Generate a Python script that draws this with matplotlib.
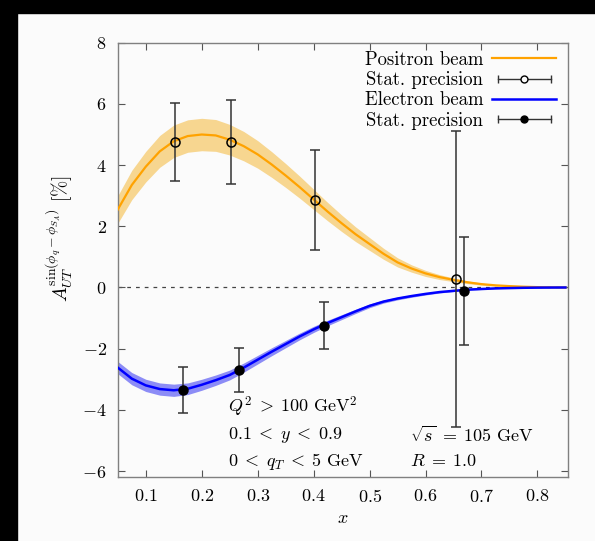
import matplotlib
matplotlib.use("Agg")
import matplotlib.pyplot as plt
from matplotlib.legend_handler import HandlerLine2D, HandlerTuple
from matplotlib.lines import Line2D
from matplotlib.patches import Rectangle

plt.rcParams["font.family"] = "serif"
plt.rcParams["font.serif"] = ["cmr10", "DejaVu Serif"]
plt.rcParams["mathtext.fontset"] = "cm"
plt.rcParams["axes.formatter.use_mathtext"] = True

# model curves, sampled every 0.025 in x
xGrid = [0.05, 0.075, 0.1, 0.125, 0.15, 0.175, 0.2, 0.225, 0.25, 0.275,
         0.3, 0.325, 0.35, 0.375, 0.4, 0.425, 0.45, 0.475, 0.5, 0.525,
         0.55, 0.575, 0.6, 0.625, 0.65, 0.675, 0.7, 0.725, 0.75, 0.775,
         0.8, 0.825, 0.85]
positronCurve = [2.55, 3.35, 3.95, 4.45, 4.78, 4.95, 5.00, 4.97, 4.83, 4.62,
                 4.35, 4.02, 3.66, 3.28, 2.88, 2.48, 2.10, 1.74, 1.42, 1.10,
                 0.82, 0.62, 0.46, 0.34, 0.25, 0.17, 0.11, 0.07, 0.045, 0.025,
                 0.012, 0.005, 0.0]
positronBand = [0.45, 0.48, 0.50, 0.52, 0.53, 0.53, 0.53, 0.52, 0.50, 0.48,
                0.45, 0.42, 0.39, 0.36, 0.33, 0.30, 0.27, 0.24, 0.21, 0.18,
                0.15, 0.12, 0.10, 0.08, 0.06, 0.045, 0.035, 0.025, 0.015, 0.01,
                0.005, 0.002, 0.0]
electronCurve = [-2.62, -2.98, -3.20, -3.32, -3.36, -3.31, -3.18, -3.03, -2.86, -2.62,
                 -2.36, -2.10, -1.85, -1.60, -1.37, -1.16, -0.97, -0.78, -0.60, -0.46,
                 -0.36, -0.28, -0.21, -0.15, -0.11, -0.07, -0.05, -0.03, -0.02, -0.01,
                 -0.005, -0.002, 0.0]
electronBand = [0.20, 0.20, 0.20, 0.20, 0.20, 0.19, 0.18, 0.17, 0.16, 0.15,
                0.14, 0.13, 0.12, 0.11, 0.10, 0.09, 0.08, 0.07, 0.06, 0.05,
                0.045, 0.04, 0.035, 0.03, 0.025, 0.02, 0.015, 0.01, 0.008, 0.005,
                0.003, 0.001, 0.0]

# pseudo-data with statistical errors
positronX = [0.152, 0.252, 0.402, 0.654]
positronY = [4.76, 4.76, 2.86, 0.28]
positronErr = [1.27, 1.37, 1.65, 4.85]
electronX = [0.167, 0.267, 0.418, 0.669]
electronY = [-3.36, -2.69, -1.25, -0.12]
electronErr = [0.75, 0.72, 0.77, 1.77]

ORANGE = "#ffa200"
BLUE = "#0000ff"
BG = "#fbfbfb"
ERR = "#333333"

fig = plt.figure(figsize=(5.95, 5.41), dpi=100)
fig.patch.set_facecolor(BG)
ax = fig.add_axes([0.198, 0.118, 0.757, 0.803])
ax.set_facecolor(BG)

# screenshot borders
fig.patches.append(Rectangle((0, 0.976), 1, 0.024, transform=fig.transFigure,
                             color="black", zorder=-1))
fig.patches.append(Rectangle((0, 0), 0.029, 1, transform=fig.transFigure,
                             color="black", zorder=-1))

ax.axhline(0, color="#444444", lw=0.9, ls=(0, (3, 4)), zorder=1)

bandUpper = [c + b for c, b in zip(positronCurve, positronBand)]
bandLower = [c - b for c, b in zip(positronCurve, positronBand)]
ax.fill_between(xGrid, bandLower, bandUpper, color="#f7d690", lw=0, zorder=2)
posLine, = ax.plot(xGrid, positronCurve, color=ORANGE, lw=1.6, zorder=3)

bandUpper = [c + b for c, b in zip(electronCurve, electronBand)]
bandLower = [c - b for c, b in zip(electronCurve, electronBand)]
ax.fill_between(xGrid, bandLower, bandUpper, color="#8c8cf6", lw=0, zorder=2)
eleLine, = ax.plot(xGrid, electronCurve, color=BLUE, lw=1.8, zorder=3)

errStyle = dict(ecolor=ERR, elinewidth=1.1, capsize=3.5, capthick=1.1,
                markeredgecolor="black", markersize=6.5, zorder=4)
ax.errorbar(positronX, positronY, yerr=positronErr, fmt="o",
            markerfacecolor="none", markeredgewidth=1.1, **errStyle)
ax.errorbar(electronX, electronY, yerr=electronErr, fmt="o",
            markerfacecolor="black", **errStyle)

# gnuplot-like horizontal error bar samples for the legend
capLine = Line2D([], [], color=ERR, lw=1.0, marker="|", markersize=6,
                 markeredgewidth=1.0)
openDot = Line2D([], [], ls="none", marker="o", markersize=5,
                 markerfacecolor=BG, markeredgecolor="black", markeredgewidth=1.0)
fullDot = Line2D([], [], ls="none", marker="o", markersize=5,
                 markerfacecolor="black", markeredgecolor="black")

legHandles = [posLine, (capLine, openDot), eleLine, (capLine, fullDot)]
legLabels = ["Positron beam", "Stat. precision", "Electron beam", "Stat. precision"]
ax.legend(legHandles, legLabels, loc="upper right", frameon=False,
          markerfirst=False, fontsize=13.5, handlelength=3.4, handletextpad=0.5,
          labelspacing=0.12, borderaxespad=0.0, bbox_to_anchor=(0.99, 0.998),
          handler_map={capLine: HandlerLine2D(numpoints=2),
                       openDot: HandlerLine2D(numpoints=1),
                       fullDot: HandlerLine2D(numpoints=1),
                       tuple: HandlerTuple(ndivide=1)})

ax.text(0.245, 0.161, r"$Q^2\;>\;100\ \mathrm{GeV}^2$", transform=ax.transAxes,
        fontsize=13, va="center")
ax.text(0.245, 0.097, r"$0.1\;<\;y\;<\;0.9$", transform=ax.transAxes,
        fontsize=13, va="center")
ax.text(0.245, 0.037, r"$0\;<\;q_T\;<\;5\ \mathrm{GeV}$", transform=ax.transAxes,
        fontsize=13, va="center")
ax.text(0.648, 0.097, r"$\sqrt{s}\;=\;105\ \mathrm{GeV}$", transform=ax.transAxes,
        fontsize=13, va="center")
ax.text(0.648, 0.037, r"$R\;=\;1.0$", transform=ax.transAxes,
        fontsize=13, va="center")

ax.set_xlim(0.05, 0.855)
ax.set_ylim(-6.2, 8)
ax.set_xticks([0.1, 0.2, 0.3, 0.4, 0.5, 0.6, 0.7, 0.8])
ax.set_yticks([-6, -4, -2, 0, 2, 4, 6, 8])
ax.tick_params(direction="in", top=True, right=True, length=5, width=0.8,
               color="#555555", labelsize=13, pad=8)
for spine in ax.spines.values():
    spine.set_color("#808080")
    spine.set_linewidth(1.0)

ax.set_xlabel(r"$x$", fontsize=13, labelpad=4)
ax.set_ylabel(r"$A_{UT}^{\sin(\phi_q-\phi_{S_A})}\ [\%]$", fontsize=14)
ax.yaxis.set_label_coords(-0.095, 0.55)

fig.savefig("out.png", dpi=100, facecolor=fig.get_facecolor())
